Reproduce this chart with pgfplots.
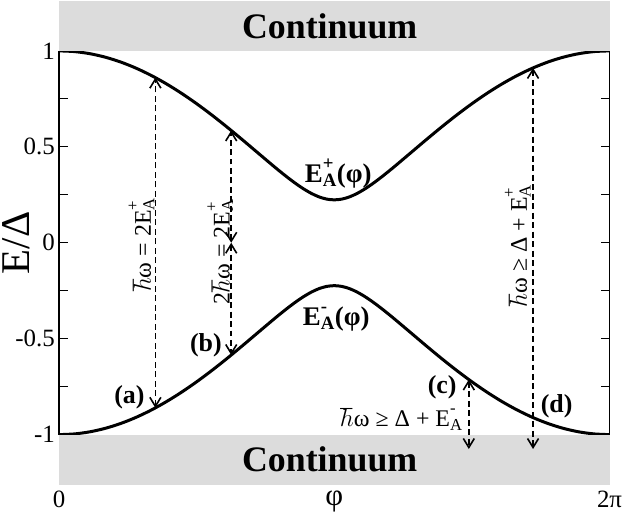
\documentclass[border={3bp 0bp 0bp 1bp}]{standalone}
\usepackage{pgfplots}
\usepackage{pgfplotstable}
\pgfplotsset{compat=1.18}
\usetikzlibrary{arrows.meta}
\usepackage{fontspec}
\setmainfont{Liberation Serif}

\definecolor{contgray}{RGB}{220,220,220}
\newcommand{\fs}[1]{\fontsize{#1}{#1}\selectfont}
\newcommand{\EA}[1]{E\rlap{\raisebox{0.15em}{\textsuperscript{#1}}}\textsubscript{A}}

% Andreev levels E/Delta vs phase (degrees)
\pgfplotstableread{
phi   up       low
0     1.00000  -1.00000
10    0.99639  -0.99639
20    0.98557  -0.98557
30    0.96766  -0.96766
40    0.94280  -0.94280
50    0.91122  -0.91122
60    0.87321  -0.87321
70    0.82913  -0.82913
80    0.77941  -0.77941
90    0.72457  -0.72457
100   0.66522  -0.66522
110   0.60211  -0.60211
120   0.53619  -0.53619
130   0.46870  -0.46870
140   0.40141  -0.40141
145   0.36865  -0.36865
150   0.33710  -0.33710
155   0.30742  -0.30742
160   0.28044  -0.28044
165   0.25726  -0.25726
170   0.23920  -0.23920
175   0.22762  -0.22762
180   0.22361  -0.22361
185   0.22762  -0.22762
190   0.23920  -0.23920
195   0.25726  -0.25726
200   0.28044  -0.28044
205   0.30742  -0.30742
210   0.33710  -0.33710
215   0.36865  -0.36865
220   0.40141  -0.40141
230   0.46870  -0.46870
240   0.53619  -0.53619
250   0.60211  -0.60211
260   0.66522  -0.66522
270   0.72457  -0.72457
280   0.77941  -0.77941
290   0.82913  -0.82913
300   0.87321  -0.87321
310   0.91122  -0.91122
320   0.94280  -0.94280
330   0.96766  -0.96766
340   0.98557  -0.98557
350   0.99639  -0.99639
360   1.00000  -1.00000
}\states

\tikzset{
  arr/.style={line width=1.6bp, dash pattern=on 6bp off 3.5bp,
    {Straight Barb[length=9bp,width=11bp]}-{Straight Barb[length=9bp,width=11bp]}},
}

\begin{document}
\begin{tikzpicture}
\begin{axis}[
  scale only axis, width=551bp, height=484bp,
  xmin=0, xmax=360, ymin=-1.26, ymax=1.26,
  clip=false,
  axis line style={draw=none},
  xtick={0,180,360}, xticklabels={0,{\fs{31}φ},2π},
  xtick style={draw=none},
  xticklabel style={inner sep=1bp, yshift=-5bp},
  ytick={-1,-0.5,0,0.5,1}, yticklabels={-1,-0.5,0,0.5,1},
  minor ytick={-0.75,-0.25,0.25,0.75},
  yticklabel style={inner sep=1bp, xshift=-3bp},
  tick align=inside,
  major tick length=9bp, minor tick length=9bp,
  ytick style={line width=1.3bp, black},
  ticklabel style={font=\fs{25}},
  ylabel={E/Δ},
  ylabel style={font=\fs{41}, inner sep=0pt, at={(axis description cs:-0.077,0.5)}, anchor=center},
]
% frame between the continua
\addplot[line width=1.6bp] coordinates {(0,-1) (0,1)};
\addplot[line width=1.6bp] coordinates {(360,-1) (360,1)};

\addplot[line width=3bp, smooth] table[x=phi, y=up] {\states};
\addplot[line width=3bp, smooth] table[x=phi, y=low] {\states};

% continua
\addplot[fill=contgray, draw=none] coordinates {(0,1) (360,1) (360,1.26) (0,1.26)} -- cycle;
\addplot[fill=contgray, draw=none] coordinates {(0,-1) (360,-1) (360,-1.26) (0,-1.26)} -- cycle;

% transitions
\addplot[arr] coordinates {(63,-0.8606) (63,0.8606)};
\addplot[arr] coordinates {(112.6,0) (112.6,0.585)};
\addplot[arr] coordinates {(112.6,0) (112.6,-0.585)};
\addplot[arr] coordinates {(268,-0.713) (268,-1.075)};
\addplot[arr] coordinates {(310,0.911) (310,-1.075)};

\node[font=\fs{36}\bfseries] at (axis cs:177,1.13) {Continuum};
\node[font=\fs{36}\bfseries] at (axis cs:177,-1.13) {Continuum};

\node[rotate=90, font=\fs{24}] at (axis cs:54,-0.01) {$\hbar$ω = 2\EA{+}};
\node[rotate=90, font=\fs{24}] at (axis cs:105.5,-0.047) {2$\hbar$ω = 2\EA{+}};
\node[rotate=90, font=\fs{24}] at (axis cs:300,-0.016) {$\hbar$ω ≥ Δ + \EA{+}};
\node[font=\fs{24}] at (axis cs:224,-0.92) {$\hbar$ω ≥ Δ + \EA{-}};

\node[font=\fs{27}\bfseries] at (axis cs:182.6,0.36) {\EA{+}(φ)};
\node[font=\fs{27}\bfseries] at (axis cs:181.3,-0.396) {\EA{-}(φ)};

\node[font=\fs{26}\bfseries] at (axis cs:46,-0.807) {(a)};
\node[font=\fs{26}\bfseries] at (axis cs:96,-0.534) {(b)};
\node[font=\fs{26}\bfseries] at (axis cs:250.6,-0.755) {(c)};
\node[font=\fs{26}\bfseries] at (axis cs:325.4,-0.85) {(d)};
\end{axis}
\end{tikzpicture}
\end{document}
